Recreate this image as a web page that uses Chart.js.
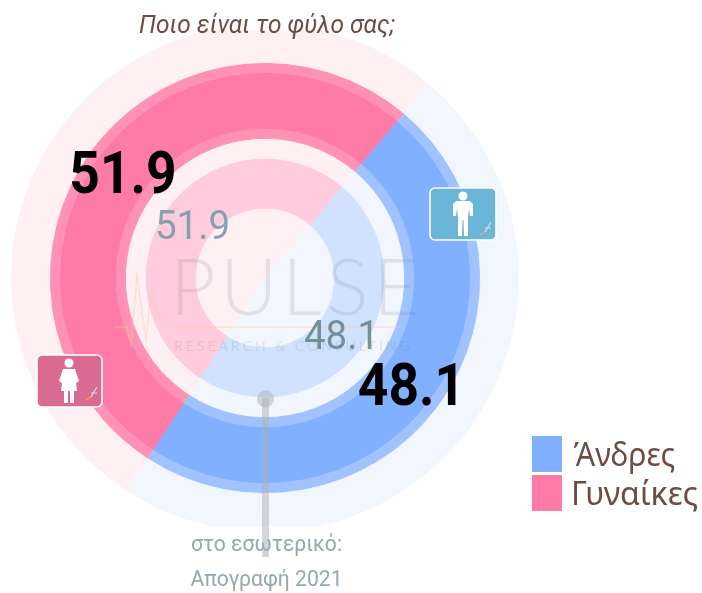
<!DOCTYPE html>
<html>
<head>
<meta charset="utf-8">
<style>
  html, body { margin: 0; padding: 0; background: #fff; }
  #displayChart { display: block; }
</style>
<script src="https://cdn.jsdelivr.net/npm/chart.js@4/dist/chart.umd.min.js"></script>
</head>
<body>
<canvas id="displayChart" width="702" height="593"></canvas>
<script>
//values
var categories = ["Άνδρες", "Γυναίκες"];
var census = [48.1, 51.9];
var survey = [48.1, 51.9];

var titleText = "Ποιο είναι το φύλο σας;";
var calloutLines = ["στο εσωτερικό:", "Απογραφή 2021"];

//ring colours, outside to inside: [men, women]
var ringPale = ["#f2f6ff", "#fff0f4"];
var ringEdge = ["#a0c3ff", "#ff92b4"];
var ringMain = ["#80b0ff", "#ff7ba7"];
var ringLight = ["#d0e2ff", "#ffccdd"];

//one ring of the doughnut, clip trims the outer halo flat at top and bottom
//the thin same colour border hides the white seam between rings
function ring(values, colors, weight) {
  return {
    data: values,
    backgroundColor: colors,
    borderColor: colors,
    borderWidth: 1,
    weight: weight,
    clip: { left: 0, right: 0, top: -6, bottom: -6 }
  };
}

//text squeezed sideways, the original uses a condensed face
function text(ctx, str, x, y, font, color, sx) {
  ctx.save();
  ctx.translate(x, y);
  ctx.scale(sx || 1, 1);
  ctx.font = font;
  ctx.fillStyle = color;
  ctx.textAlign = "center";
  ctx.textBaseline = "alphabetic";
  ctx.fillText(str, 0, 0);
  ctx.restore();
}

function roundBox(ctx, x, y, w, h, r, fill) {
  ctx.beginPath();
  ctx.roundRect(x, y, w, h, r);
  ctx.fillStyle = fill;
  ctx.fill();
  ctx.lineWidth = 1.6;
  ctx.strokeStyle = "#fff";
  ctx.stroke();
}

function spark(ctx, x, y, tip) {
  ctx.lineWidth = 1.6;
  ctx.strokeStyle = tip;
  ctx.beginPath();
  ctx.moveTo(x, y + 13);
  ctx.lineTo(x + 6, y + 9);
  ctx.stroke();
  ctx.strokeStyle = "rgba(235,235,230,0.85)";
  ctx.lineWidth = 1.2;
  ctx.beginPath();
  ctx.moveTo(x + 5, y + 10);
  ctx.lineTo(x + 11, y);
  ctx.moveTo(x + 5, y + 6);
  ctx.lineTo(x + 11, y + 6);
  ctx.stroke();
}

function manIcon(ctx, cx, top) {
  ctx.fillStyle = "#fff";
  ctx.beginPath();
  ctx.arc(cx, top + 4, 4.5, 0, Math.PI * 2);
  ctx.fill();
  ctx.beginPath();
  ctx.moveTo(cx - 7, top + 9);
  ctx.lineTo(cx + 7, top + 9);
  ctx.lineTo(cx + 10, top + 12);
  ctx.lineTo(cx + 10, top + 24);
  ctx.lineTo(cx + 7, top + 24);
  ctx.lineTo(cx + 6, top + 16);
  ctx.lineTo(cx + 5, top + 26);
  ctx.lineTo(cx + 5, top + 44);
  ctx.lineTo(cx + 1, top + 44);
  ctx.lineTo(cx + 0.5, top + 28);
  ctx.lineTo(cx - 0.5, top + 28);
  ctx.lineTo(cx - 1, top + 44);
  ctx.lineTo(cx - 5, top + 44);
  ctx.lineTo(cx - 5, top + 26);
  ctx.lineTo(cx - 6, top + 16);
  ctx.lineTo(cx - 7, top + 24);
  ctx.lineTo(cx - 10, top + 24);
  ctx.lineTo(cx - 10, top + 12);
  ctx.closePath();
  ctx.fill();
}

function womanIcon(ctx, cx, top) {
  ctx.fillStyle = "#fff";
  ctx.beginPath();
  ctx.arc(cx, top + 4, 4.5, 0, Math.PI * 2);
  ctx.fill();
  ctx.beginPath();
  ctx.moveTo(cx - 6, top + 10);
  ctx.lineTo(cx + 6, top + 10);
  ctx.lineTo(cx + 10, top + 22);
  ctx.lineTo(cx + 7, top + 24);
  ctx.lineTo(cx + 8, top + 32);
  ctx.lineTo(cx - 8, top + 32);
  ctx.lineTo(cx - 7, top + 24);
  ctx.lineTo(cx - 10, top + 22);
  ctx.closePath();
  ctx.fill();
  ctx.fillRect(cx - 5, top + 31, 4, 13);
  ctx.fillRect(cx + 1, top + 31, 4, 13);
}

//faint logo behind the numbers
function watermark(ctx) {
  ctx.save();
  ctx.strokeStyle = "rgba(255,200,150,0.4)";
  ctx.lineWidth = 1.5;
  ctx.beginPath();
  ctx.moveTo(115, 327);
  ctx.lineTo(127, 327);
  ctx.lineTo(131, 345);
  ctx.lineTo(137, 275);
  ctx.lineTo(146, 342);
  ctx.lineTo(151, 290);
  ctx.lineTo(160, 318);
  ctx.lineTo(163, 327);
  ctx.lineTo(400, 327);
  ctx.stroke();
  ctx.fillStyle = "rgba(110,120,135,0.16)";
  ctx.font = "300 79px Lato";
  ctx.textAlign = "left";
  ctx.letterSpacing = "4.4px";
  ctx.fillText("PULSE", 170, 315);
  ctx.font = "400 14px Lato";
  ctx.letterSpacing = "3px";
  ctx.fillText("RESEARCH & CONSULTING", 174, 351);
  ctx.restore();
}

var overlay = {
  id: "overlay",
  afterDraw: function (chart) {
    var ctx = chart.ctx;
    ctx.save();
    watermark(ctx);

    text(ctx, titleText, 267, 33, "italic 400 25px Roboto", "#6d4c41", 0.98);

    //value labels
    text(ctx, String(survey[1]), 123, 193, "700 60px Roboto", "#000", 0.89);
    text(ctx, String(survey[0]), 411.5, 405, "700 60px Roboto", "#000", 0.89);
    text(ctx, String(census[1]), 192.5, 239, "400 41px Roboto", "rgba(115,150,165,0.85)", 0.94);
    text(ctx, String(census[0]), 341.5, 349, "400 41px Roboto", "rgba(105,135,140,0.9)", 0.94);

    //callout
    text(ctx, calloutLines[0], 266.5, 551, "400 22px Roboto", "#94a8b2", 0.96);
    text(ctx, calloutLines[1], 266.5, 586, "400 22px Roboto", "#94a8b2", 0.96);
    ctx.fillStyle = "rgba(170,175,180,0.5)";
    ctx.fillRect(262, 398, 7, 159);
    ctx.beginPath();
    ctx.arc(265.5, 399, 8.5, 0, Math.PI * 2);
    ctx.fill();

    //icons
    roundBox(ctx, 430, 188, 66, 52, 5, "#6bb5d6");
    manIcon(ctx, 463, 192);
    spark(ctx, 480, 222, "#b9b08e");
    roundBox(ctx, 37, 355, 65, 52, 5, "#d96a92");
    womanIcon(ctx, 69, 359);
    spark(ctx, 86, 387, "#e8926a");

    //legend
    ctx.fillStyle = ringMain[0];
    ctx.fillRect(532, 436, 30, 36);
    ctx.fillStyle = ringMain[1];
    ctx.fillRect(532, 475, 30, 36);
    text(ctx, categories[0], 624.5, 466, "400 32px 'Noto Sans'", "#6d4c41", 0.945);
    text(ctx, categories[1], 634.5, 505, "400 32px 'Noto Sans'", "#6d4c41", 1);
    ctx.restore();
  }
};

var chart = new Chart(document.getElementById("displayChart").getContext("2d"), {
  type: "doughnut",
  data: {
    labels: categories,
    datasets: [
      ring(survey, ringPale, 38),
      ring(survey, ringEdge, 10),
      ring(survey, ringMain, 56),
      ring(survey, ringEdge, 10),
      ring(census, ringPale, 20),
      ring(census, ringLight, 50),
      ring(census, ringPale, 70)
    ]
  },
  options: {
    responsive: false,
    animation: false,
    cutout: 0,
    rotation: 40,
    layout: { padding: { left: 11, right: 183, top: 24, bottom: 61 } },
    plugins: {
      legend: { display: false },
      title: { display: false },
      tooltip: { enabled: false }
    }
  },
  plugins: [overlay]
});
</script>
</body>
</html>
